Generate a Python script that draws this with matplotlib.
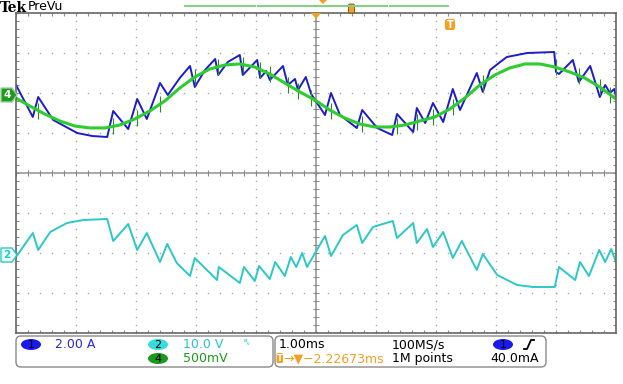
import numpy as np
import matplotlib
matplotlib.use("Agg")
import matplotlib.pyplot as plt
from matplotlib.patches import FancyBboxPatch, Polygon, Ellipse

W, H = 623, 384

# time in ms (1.00 ms/div, 0 = centre of screen)
ch1_t = [-5.00, -4.72, -4.63, -4.38, -3.98, -3.73, -3.48, -3.38, -3.13, -2.98,
         -2.82, -2.60, -2.47, -2.27, -2.10, -2.02, -1.85, -1.68, -1.63, -1.47,
         -1.27, -1.22, -0.98, -0.93, -0.83, -0.77, -0.55, -0.47, -0.35, -0.30,
         -0.17, -0.08, 0.15, 0.25, 0.40, 0.68, 0.77, 1.02, 1.27, 1.35,
         1.62, 1.68, 1.82, 1.95, 2.12, 2.28, 2.40, 2.68, 2.78, 2.90,
         3.07, 3.18, 3.52, 3.97, 4.00, 4.05, 4.28, 4.38, 4.57, 4.73,
         4.82, 4.90, 4.97, 5.00]
ch1_amp = [0.50, -1.10, -0.10, -1.25, -1.90, -2.05, -2.10, -0.80, -1.70, -0.20,
           -1.20, 0.60, 0.00, 0.85, 1.45, 0.40, 1.25, 1.80, 1.00, 1.65,
           2.00, 1.00, 1.75, 0.85, 1.20, 0.75, 1.45, 0.50, 0.80, 0.25,
           0.90, 0.05, -1.00, 0.10, -1.00, -1.65, -0.75, -1.65, -2.00, -0.95,
           -1.85, -0.65, -1.40, -0.40, -1.35, 0.30, -0.75, 1.10, 0.15, 1.25,
           1.65, 1.90, 2.10, 2.15, 1.15, 1.05, 1.75, 0.65, 1.45, -0.10,
           0.50, 0.10, 0.30, -0.10]

ch2_t = [-5.00, -4.72, -4.63, -4.43, -4.15, -3.88, -3.48, -3.38, -3.13, -2.98,
         -2.82, -2.60, -2.48, -2.32, -2.10, -2.02, -1.65, -1.62, -1.27, -1.20,
         -1.02, -0.95, -0.77, -0.68, -0.52, -0.42, -0.33, -0.23, -0.15, 0.15,
         0.25, 0.45, 0.68, 0.77, 0.95, 1.28, 1.35, 1.62, 1.68, 1.85,
         1.95, 2.12, 2.28, 2.43, 2.68, 2.78, 3.02, 3.35, 3.62, 3.98,
         4.05, 4.32, 4.40, 4.55, 4.72, 4.82, 4.92, 5.00]
ch2_volt = [-0.5, 5.5, 1.25, 5.75, 8.0, 8.75, 9.0, 3.5, 7.75, 1.25,
            5.5, -1.75, 2.75, -2.0, -5.25, -0.75, -6.25, -3.0, -7.0, -3.0,
            -6.5, -2.75, -6.0, -1.75, -5.25, -0.5, -3.0, 0.5, -3.0, 4.75,
            -0.25, 5.0, 7.5, 3.0, 7.0, 8.5, 4.25, 8.0, 3.0, 6.5,
            2.0, 5.75, -0.75, 3.5, -3.75, 0.25, -5.0, -7.5, -8.0, -8.0,
            -3.0, -6.25, -1.75, -5.25, 1.25, -1.75, 1.5, -1.75]

ch4_t = [-5.00, -4.77, -4.52, -4.27, -4.02, -3.77, -3.52, -3.27, -3.02, -2.77,
         -2.52, -2.27, -2.02, -1.77, -1.52, -1.27, -1.02, -0.77, -0.52, -0.27,
         -0.02, 0.23, 0.48, 0.73, 0.98, 1.23, 1.48, 1.73, 1.98, 2.23,
         2.48, 2.73, 2.98, 3.23, 3.48, 3.73, 3.98, 4.23, 4.48, 4.73, 5.00]
ch4_mv = [-38, -138, -238, -325, -388, -412, -412, -375, -300, -200,
          -75, 88, 225, 325, 375, 388, 350, 262, 150, 38,
          -62, -188, -288, -362, -400, -400, -375, -325, -275, -175,
          -38, 125, 250, 338, 388, 388, 350, 288, 212, 100, -50]

# switching glitches seen on channel 4
spike_t = [-4.63, -3.38, -2.98, -2.60, -2.02, -1.63, -1.22, -0.93, -0.77, -0.47,
           -0.30, -0.08, 0.25, 0.77, 1.35, 1.68, 1.95, 2.28, 2.78, 4.00,
           4.38, 4.73, 4.90]

ch1_scale, ch1_pos = 2.0, 1.95     # A/div, div
ch2_scale, ch2_pos = 10.0, -2.05   # V/div
ch4_scale, ch4_pos = 500.0, 1.95   # mV/div

BLUE = '#1c1ccc'
GREEN = '#2ecc2e'
CYAN = '#2cc8c8'
ORANGE = '#f5a020'

fig = plt.figure(figsize=(W / 100, H / 100), dpi=100)
ax = fig.add_axes([16 / W, 51 / H, 600 / W, 320 / H])
ax.set_xlim(-5, 5)
ax.set_ylim(-4, 4)
ax.set_xticks([])
ax.set_yticks([])
for s in ax.spines.values():
    s.set_color('#666666')
    s.set_linewidth(1.2)

# graticule
minor_x = np.arange(-5, 5.001, 0.2)
minor_y = np.arange(-4, 4.001, 0.2)
for gx in range(-4, 5):
    if gx != 0:
        ax.plot(np.full_like(minor_y, gx), minor_y, ls='none', marker='s',
                ms=1.0, mew=0, color='#a8a8a8')
for gy in range(-3, 4):
    if gy != 0:
        ax.plot(minor_x, np.full_like(minor_x, gy), ls='none', marker='s',
                ms=1.0, mew=0, color='#a8a8a8')
ax.axhline(0, color='#999999', lw=1.2)
ax.axvline(0, color='#999999', lw=1.2)
tc = '#8a8a8a'
ax.vlines(minor_x, -0.08, 0.08, color=tc, lw=0.8)
ax.hlines(minor_y, -0.05, 0.05, color=tc, lw=0.8)
ax.vlines(minor_x, 3.93, 4, color=tc, lw=0.8)
ax.vlines(minor_x, -4, -3.93, color=tc, lw=0.8)
ax.hlines(minor_y, -5, -4.95, color=tc, lw=0.8)
ax.hlines(minor_y, 4.95, 5, color=tc, lw=0.8)

# traces
ax.plot(ch1_t, ch1_pos + np.array(ch1_amp) / ch1_scale, color=BLUE, lw=1.4)
g_at = ch4_pos + np.interp(spike_t, ch4_t, ch4_mv) / ch4_scale
ax.vlines(spike_t, g_at - 0.2, g_at + 0.2, color='#2a8a2a', lw=0.8)
ax.plot(ch4_t, ch4_pos + np.array(ch4_mv) / ch4_scale, color=GREEN, lw=2.2)
ax.plot(ch2_t, ch2_pos + np.array(ch2_volt) / ch2_scale, color=CYAN, lw=1.4)

# overlay in pixel coordinates for the scope decorations
ov = fig.add_axes([0, 0, 1, 1])
ov.set_xlim(0, W)
ov.set_ylim(H, 0)
ov.axis('off')

ov.text(0, 8, 'Tek', fontsize=10, fontweight='bold', family='DejaVu Serif', va='center')
ov.text(28, 6.5, 'PreVu', fontsize=9, va='center')
for x0, x1 in [(185, 255), (258, 387), (390, 448)]:
    ov.plot([x0, x1], [5.5, 5.5], color='#88d088', lw=1.5)
ov.add_patch(Polygon([(319, 0), (327, 0), (323, 4)], fc=ORANGE, ec='none'))
ov.add_patch(FancyBboxPatch((348.5, 4), 6, 9, boxstyle='round,pad=0,rounding_size=1.5',
                            fc=ORANGE, ec='#7a4a00', lw=0.6))
ov.add_patch(Polygon([(311, 13), (321, 13), (316, 19)], fc=ORANGE, ec='none'))
ov.add_patch(FancyBboxPatch((445, 19), 10, 11, boxstyle='round,pad=0,rounding_size=2',
                            fc=ORANGE, ec='none'))
ov.text(450, 24.5, 'T', color='white', fontsize=7, fontweight='bold', ha='center', va='center')


def flag(y, label, fc, ec, tcol):
    ov.add_patch(Polygon([(1, y - 7), (12, y - 7), (17, y), (12, y + 7), (1, y + 7)],
                         fc=fc, ec=ec, lw=1))
    ov.text(7, y + 0.5, label, color=tcol, fontsize=7.5, fontweight='bold',
            ha='center', va='center')


flag(173 - ch4_pos * 40, '4', '#1f9a1f', '#9ad29a', 'white')
flag(173 - ch2_pos * 40, '2', '#eaffff', CYAN, CYAN)

# readout panel
for x0, w in [(16, 257), (275, 271)]:
    ov.add_patch(FancyBboxPatch((x0, 336), w, 31, boxstyle='round,pad=0,rounding_size=5',
                                fc='white', ec='#8a8a8a', lw=1))


def badge(x, y, label, fc):
    ov.add_patch(Ellipse((x, y), 20, 11, fc=fc, ec='none'))
    ov.text(x, y + 0.5, label, color='black', fontsize=8, ha='center', va='center')


r1, r2 = 344.5, 358.5
badge(31, r1, '1', '#1a1aee')
ov.text(55, r1, '2.00 A', color='#2a2ae0', fontsize=9, va='center')
badge(158, r1, '2', '#33dddd')
ov.text(183, r1, '10.0 V', color='#22c4d4', fontsize=9, va='center')
ov.text(243, r1 - 2, 'ᴮᵥ', color='#22c4d4', fontsize=6, va='center')
badge(158, r2, '4', '#1a9a1a')
ov.text(183, r2, '500mV', color='#1a9a1a', fontsize=9, va='center')

ov.text(279, r1, '1.00ms', color='black', fontsize=9, va='center')
ov.text(392, r1, '100MS/s', color='black', fontsize=9, va='center')
badge(503, r1, '1', '#1a1aee')
ov.plot([524, 527, 531, 534], [349, 349, 340, 340], color='black', lw=1.3)
ov.add_patch(FancyBboxPatch((276.5, 353), 6.5, 10, boxstyle='round,pad=0,rounding_size=1.5',
                            fc=ORANGE, ec='none'))
ov.text(279.7, r2, 'T', color='white', fontsize=6, fontweight='bold', ha='center', va='center')
ov.text(283, r2, '→▼−2.22673ms', color=ORANGE, fontsize=9, va='center')
ov.text(392, r2, '1M points', color='black', fontsize=9, va='center')
ov.text(490, r2, '40.0mA', color='black', fontsize=9, va='center')

fig.savefig('out.png', dpi=100)
